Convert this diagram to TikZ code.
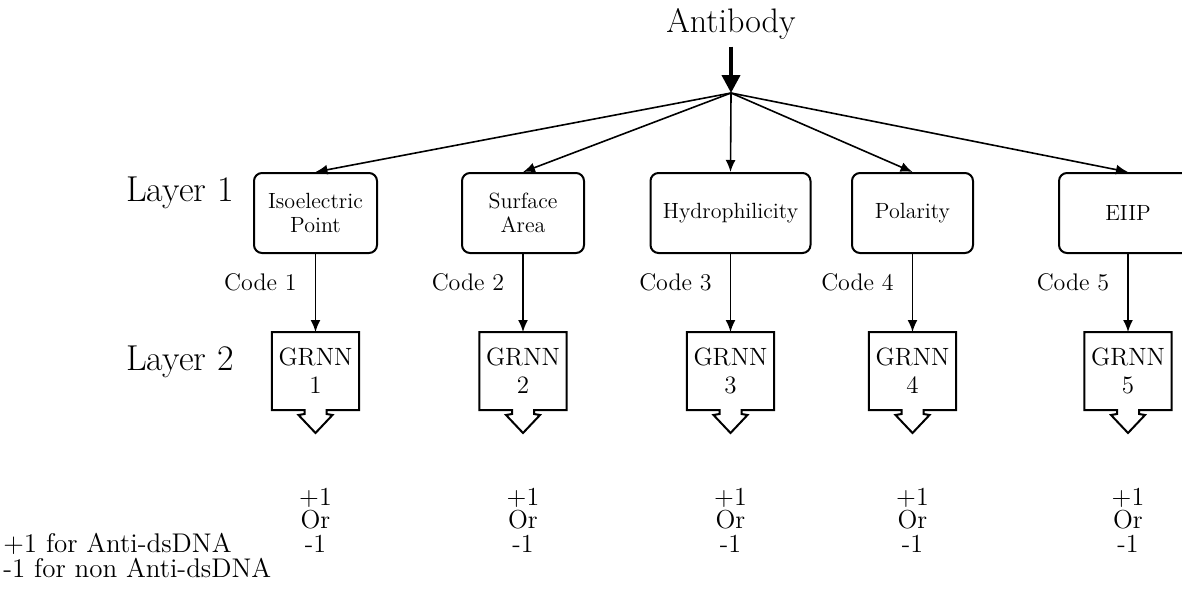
\documentclass[tikz,border=0pt]{standalone}
\usepackage{tikz}
\usetikzlibrary{arrows.meta,positioning}

\tikzset{
  layerbox/.style={draw, line width=1pt, rounded corners=4pt, minimum height=40pt,
    align=center, inner sep=2pt, font=\fontsize{11}{12}\selectfont},
  grnnnode/.style={minimum width=43.5pt, minimum height=39pt, outer sep=0pt,
    align=center, font=\fontsize{12.5}{14}\selectfont},
  grnnline/.style={line width=1pt, line join=miter},
  feed/.style={-{Latex[length=6pt,width=5pt]}, line width=0.8pt},
  bigfeed/.style={-{Triangle[length=9pt,width=9pt]}, line width=2pt},
  codelbl/.style={inner sep=0pt, font=\fontsize{12}{14}\selectfont},
  layerlbl/.style={font=\fontsize{18}{21}\selectfont},
  outlbl/.style={align=center, font=\fontsize{13}{11.75}\selectfont},
}

\begin{document}
\begin{tikzpicture}[x=0.5pt, y=-0.5pt]
			\clip (0,0) rectangle (1182,589);
			% antibody and the common branching point
			\node[font=\fontsize{17}{20}\selectfont] (antibody) at (731,24) {Antibody};
			\coordinate (hub) at (731,93);
			\draw[bigfeed] (antibody.south) -- (hub);

			\node[layerlbl] (lay1) at (180,193) {Layer 1};
			\node[layerlbl] (lay2) at (180,362) {Layer 2};

			% layer 1: features
			\node[layerbox, minimum width=61.5pt] (b1) at (315.5,213) {Isoelectric\\Point};
			\node[layerbox, minimum width=61pt] (b2) at (523,213) {Surface\\Area};
			\node[layerbox, minimum width=80pt] (b3) at (730.5,213) {Hydrophilicity};
			\node[layerbox, minimum width=60.5pt] (b4) at (912.5,213) {Polarity};
			\node[layerbox, minimum width=69pt] (b5) at (1128,213) {EIIP};

			\foreach \i in {1,...,5}
				\draw[feed] (hub) -- (b\i.north);

			% layer 2: GRNN blocks
			\foreach \i/\cx in {1/315.5, 2/523, 3/730.5, 4/912.5, 5/1128}
			{
				\node[grnnnode] (g\i) at (\cx,371) {GRNN\\\i};
				\draw[grnnline] ([xshift=5.5pt]g\i.south) -- ++(0,4) -- ++(6,1)
					-- ++(-17,18) -- ++(-17,-18) -- ++(6,-1) -- ++(0,-4)
					-- (g\i.south west) -- (g\i.north west) -- (g\i.north east)
					-- (g\i.south east) -- cycle;
				\draw[feed] (b\i.south) -- node[codelbl, pos=0.36, left=9pt] {Code \i} (g\i.north);
				\node[outlbl] (o\i) at (\cx,520) {+1\\Or\\-1};
			}

			\node[outlbl, align=left, anchor=west, inner sep=0pt, font=\fontsize{13.5}{12.5}\selectfont] (legend) at (3,555)
				{+1 for Anti-dsDNA\\-1 for non Anti-dsDNA};
		\end{tikzpicture}
\end{document}
